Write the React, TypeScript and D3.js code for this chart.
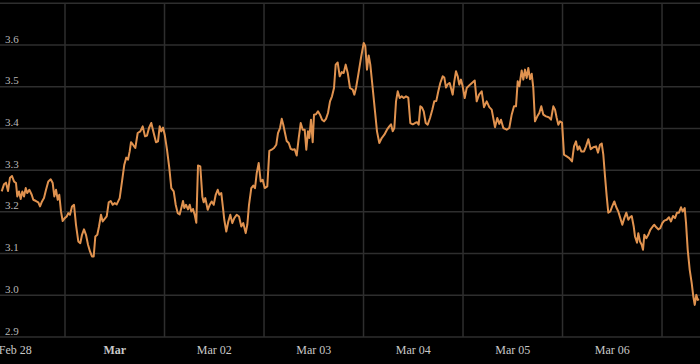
import React from "react";
import * as d3 from "d3";

// hours since Feb 28 00:00 UTC
const hours = [
  8.73, 9.28, 9.77, 10.25, 10.73, 11.21, 11.7, 12.18, 12.49, 12.9, 13.31, 13.7, 14.11, 14.52, 14.9, 15.39, 15.97, 16.35, 17.0, 17.56,
  17.97, 18.45, 18.93, 19.42, 19.97, 20.55, 21.03, 21.42, 21.83, 22.24, 22.62, 23.03, 23.44, 23.93, 24.41, 24.79, 25.2, 25.69, 26.17, 26.65,
  27.21, 27.69, 28.1, 28.58, 29.06, 29.55, 30.03, 30.51, 30.92, 31.31, 31.79, 32.2, 32.68, 33.09, 33.57, 34.06, 34.54, 35.02, 35.5, 35.99,
  36.47, 37.19, 37.75, 38.3, 38.78, 39.19, 39.6, 39.92, 40.4, 40.95, 41.53, 42.16, 42.74, 43.3, 43.78, 44.26, 44.81, 45.39, 45.95, 46.43,
  46.84, 47.23, 47.64, 48.05, 48.6, 49.16, 49.64, 50.22, 50.7, 51.18, 51.66, 52.15, 52.46, 52.77, 53.18, 53.67, 54.08, 54.46, 54.87, 55.28,
  55.67, 56.08, 56.63, 57.12, 57.45, 57.84, 58.42, 58.9, 59.38, 59.87, 60.35, 60.83, 61.22, 61.7, 62.11, 62.42, 62.9, 63.39, 63.87, 64.35,
  64.83, 65.41, 65.97, 66.52, 67.0, 67.58, 67.97, 68.38, 68.93, 69.41, 69.83, 70.24, 70.72, 71.2, 71.68, 72.17, 72.79, 73.28, 73.85, 74.41,
  74.96, 75.37, 75.86, 76.27, 76.65, 77.06, 77.47, 77.96, 78.44, 78.92, 79.4, 79.88, 80.37, 80.85, 81.33, 81.81, 82.2, 82.61, 82.93, 83.33,
  83.74, 84.06, 84.54, 85.02, 85.5, 85.99, 86.47, 86.95, 87.43, 87.92, 88.4, 88.88, 89.29, 89.77, 90.26, 90.74, 91.22, 91.7, 92.19, 92.74,
  93.39, 93.78, 94.19, 94.74, 95.39, 96.05, 96.43, 96.84, 97.25, 97.64, 98.21, 98.77, 99.25, 99.81, 100.39, 101.02, 101.66, 102.22, 102.63, 103.04,
  103.43, 103.84, 104.25, 104.73, 105.21, 105.69, 106.25, 106.8, 107.29, 107.87, 108.42, 108.9, 109.31, 109.7, 110.11, 110.52, 111.0, 111.48, 112.04, 112.59,
  113.07, 113.56, 114.04, 114.52, 115.1, 115.49, 115.9, 116.31, 116.79, 117.1, 117.51, 117.9, 118.31, 118.72, 119.1, 119.51, 119.92, 120.41, 120.89, 121.68,
  122.82, 123.3, 123.86, 124.51, 125.06, 125.71, 126.34, 126.92, 127.71, 128.27, 128.75, 129.16, 129.72, 130.54, 131.16, 131.74, 132.3, 132.78, 133.19, 133.58,
  134.15, 134.54, 134.95, 135.36, 135.75, 136.16, 136.57, 136.95, 137.36, 137.92, 138.4, 138.88, 139.37, 140.02, 140.67, 141.22, 141.78, 142.19, 142.6, 142.99,
  143.39, 143.88, 144.36, 145.01, 145.63, 146.29, 146.77, 147.25, 147.66, 148.05, 148.53, 149.18, 149.67, 150.22, 150.8, 151.42, 152.08, 152.56, 153.04, 153.45,
  153.84, 154.25, 154.66, 155.04, 155.53, 156.01, 156.49, 156.97, 157.45, 157.94, 158.42, 158.9, 159.39, 159.87, 160.28, 160.69, 161.17, 161.48, 161.97, 162.28,
  162.69, 163.1, 163.41, 163.73, 164.21, 164.69, 165.17, 165.75, 166.14, 166.62, 167.1, 167.58, 168.07, 168.55, 169.13, 169.68, 170.16, 170.65, 171.13, 171.61,
  172.09, 172.58, 172.99, 173.47, 173.79, 174.2, 174.68, 175.16, 175.55, 175.89, 176.27, 176.61, 176.92,
];

const prices = [
  3.249, 3.266, 3.27, 3.25, 3.282, 3.286, 3.273, 3.269, 3.237, 3.249, 3.231, 3.249, 3.237, 3.257, 3.245, 3.253, 3.241, 3.229, 3.226, 3.223,
  3.213, 3.225, 3.233, 3.253, 3.273, 3.278, 3.269, 3.237, 3.253, 3.229, 3.241, 3.201, 3.178, 3.185, 3.189, 3.197, 3.193, 3.213, 3.217, 3.169,
  3.129, 3.125, 3.145, 3.158, 3.145, 3.121, 3.105, 3.093, 3.093, 3.141, 3.145, 3.165, 3.193, 3.177, 3.183, 3.189, 3.223, 3.226, 3.217, 3.221,
  3.218, 3.233, 3.273, 3.313, 3.33, 3.325, 3.345, 3.367, 3.361, 3.353, 3.389, 3.393, 3.405, 3.381, 3.383, 3.401, 3.413, 3.389, 3.367, 3.369,
  3.405, 3.393, 3.402, 3.385, 3.349, 3.305, 3.257, 3.249, 3.217, 3.197, 3.194, 3.213, 3.226, 3.209, 3.217, 3.206, 3.217, 3.201, 3.207, 3.193,
  3.174, 3.311, 3.309, 3.237, 3.223, 3.233, 3.205, 3.217, 3.225, 3.217, 3.241, 3.253, 3.241, 3.245, 3.209, 3.181, 3.153, 3.177, 3.193, 3.173,
  3.185, 3.193, 3.189, 3.165, 3.173, 3.149, 3.169, 3.217, 3.257, 3.263, 3.257, 3.293, 3.317, 3.273, 3.277, 3.257, 3.261, 3.346, 3.349, 3.353,
  3.361, 3.389, 3.401, 3.423, 3.409, 3.389, 3.37, 3.365, 3.351, 3.349, 3.35, 3.335, 3.377, 3.413, 3.397, 3.397, 3.349, 3.393, 3.377, 3.421,
  3.367, 3.433, 3.434, 3.441, 3.433, 3.421, 3.417, 3.423, 3.437, 3.465, 3.477, 3.497, 3.553, 3.558, 3.525, 3.535, 3.533, 3.553, 3.533, 3.497,
  3.493, 3.481, 3.497, 3.529, 3.569, 3.605, 3.597, 3.541, 3.575, 3.553, 3.497, 3.441, 3.393, 3.365, 3.377, 3.385, 3.397, 3.405, 3.41, 3.393,
  3.401, 3.465, 3.489, 3.473, 3.477, 3.473, 3.477, 3.474, 3.413, 3.41, 3.413, 3.415, 3.409, 3.453, 3.45, 3.441, 3.413, 3.409, 3.425, 3.445,
  3.465, 3.466, 3.489, 3.509, 3.525, 3.522, 3.498, 3.506, 3.509, 3.497, 3.481, 3.513, 3.537, 3.525, 3.505, 3.517, 3.501, 3.473, 3.497, 3.505,
  3.515, 3.465, 3.481, 3.489, 3.451, 3.465, 3.451, 3.445, 3.403, 3.425, 3.411, 3.421, 3.401, 3.397, 3.401, 3.433, 3.453, 3.453, 3.513, 3.501,
  3.539, 3.517, 3.541, 3.521, 3.545, 3.518, 3.531, 3.497, 3.417, 3.429, 3.437, 3.453, 3.433, 3.429, 3.427, 3.421, 3.453, 3.445, 3.425, 3.409,
  3.417, 3.414, 3.337, 3.333, 3.329, 3.321, 3.357, 3.369, 3.349, 3.357, 3.345, 3.345, 3.357, 3.374, 3.35, 3.355, 3.357, 3.342, 3.361, 3.364,
  3.337, 3.285, 3.237, 3.198, 3.201, 3.214, 3.225, 3.211, 3.201, 3.185, 3.169, 3.185, 3.198, 3.181, 3.187, 3.19, 3.165, 3.141, 3.126, 3.149,
  3.129, 3.121, 3.109, 3.145, 3.137, 3.145, 3.157, 3.165, 3.169, 3.163, 3.158, 3.161, 3.173, 3.179, 3.181, 3.187, 3.177, 3.19, 3.185, 3.198,
  3.198, 3.211, 3.201, 3.209, 3.173, 3.109, 3.061, 3.029, 2.997, 2.977, 3.001, 2.989, 2.991,
];

const yTicks = [2.9, 3.0, 3.1, 3.2, 3.3, 3.4, 3.5, 3.6, 3.7];
const yTickLabels = ["2.9", "3.0", "3.1", "3.2", "3.3", "3.4", "3.5", "3.6", ""];
const gridDays = [1, 2, 3, 4, 5, 6, 7]; // March days (midnight gridlines)
const xLabelHours = [12, 36, 60, 84, 108, 132, 156];
const xTickLabels = ["Feb 28", "Mar", "Mar 02", "Mar 03", "Mar 04", "Mar 05", "Mar 06"];
const xTickBold = [false, true, false, false, false, false, false];

const W = 700;
const H = 364;
const START = Date.UTC(2025, 1, 28);
const hToDate = (h: number) => new Date(START + h * 3600000);

export default function App() {
  const x = d3.scaleUtc().domain([hToDate(8.32), hToDate(177.16)]).range([0, W]);
  const y = d3.scaleLinear().domain([2.9, 3.7]).range([337, 3.3]);
  const data = hours.map((h, i) => ({ t: hToDate(h), v: prices[i] }));
  const line = d3
    .line<{ t: Date; v: number }>()
    .x((d) => x(d.t))
    .y((d) => y(d.v))
    .curve(d3.curveLinear);

  const font = "'Liberation Serif', 'Times New Roman', serif";

  return (
    <svg
      width={W}
      height={H}
      style={{ position: "fixed", left: 0, top: 0, background: "#000", display: "block" }}
    >
      <rect x={0} y={0} width={W} height={H} fill="#000" />
      {yTicks.map((t) => (
        <line key={"h" + t} x1={0} x2={W} y1={y(t)} y2={y(t)} stroke="#2e2e2e" strokeWidth={1.5} />
      ))}
      {gridDays.map((d) => {
        const xx = x(new Date(Date.UTC(2025, 2, d)));
        return <line key={"v" + d} x1={xx} x2={xx} y1={y(3.7)} y2={y(2.9)} stroke="#2e2e2e" strokeWidth={1.5} />;
      })}
      {yTicks.map((t, i) =>
        yTickLabels[i] ? (
          <text key={"yl" + t} x={5} y={y(t) - 2.5} fill="#b8b8b8" fontSize={11} fontFamily={font}>
            {yTickLabels[i]}
          </text>
        ) : null
      )}
      {xLabelHours.map((h, i) => (
        <text
          key={"xl" + i}
          x={x(hToDate(h))}
          y={354}
          textAnchor="middle"
          fill="#c8c8c8"
          fontSize={12}
          fontWeight={xTickBold[i] ? "bold" : "normal"}
          fontFamily={font}
        >
          {xTickLabels[i]}
        </text>
      ))}
      <path d={line(data) || ""} fill="none" stroke="#e0924f" strokeWidth={2} strokeLinejoin="round" />
    </svg>
  );
}
